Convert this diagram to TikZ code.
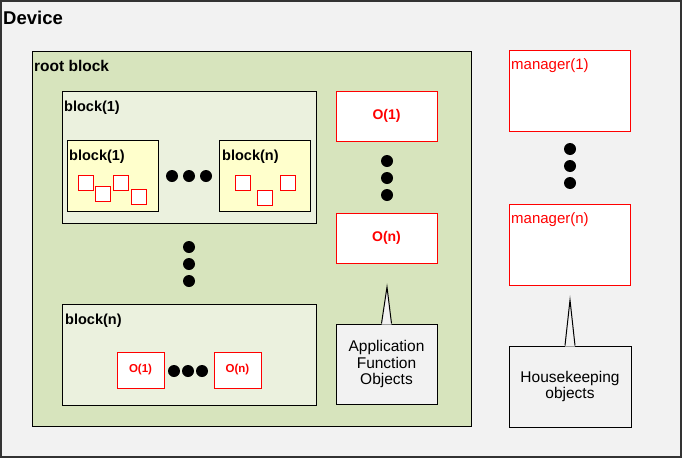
\documentclass[tikz,border=0pt]{standalone}
\usepackage{fontspec}
\setmainfont{Liberation Sans}
\definecolor{devbg}{HTML}{F2F2F2}
\definecolor{rootbg}{HTML}{D7E4BD}
\definecolor{blkbg}{HTML}{EBF1DE}
\definecolor{innbg}{HTML}{FFFFCC}
\definecolor{objred}{HTML}{FF0000}
\newcommand{\fs}[1]{\fontsize{#1}{#1}\selectfont}
\tikzset{
  box/.style={draw=black, line width=1pt, rectangle, inner sep=0pt},
  redbox/.style={draw=objred, fill=white, line width=1pt, rectangle, inner sep=0pt},
  lbl/.style={inner sep=0pt, anchor=base west, font=\bfseries\fs{14.5}},
  dot/.style={circle, fill=black, inner sep=0pt, minimum size=12pt},
  sq/.style={redbox, minimum width=15pt, minimum height=15pt},
  obj/.style={redbox, text=objred, font=\bfseries\fs{14}},
  callout/.style={box, fill=devbg, align=center, font=\fs{15.5}, text=black},
}
\begin{document}
\begin{tikzpicture}[x=1pt, y=-1pt]
\useasboundingbox (0,0) rectangle (682,458);
% device
\node[draw=black!80, line width=1.6pt, fill=devbg, minimum width=680pt, minimum height=456pt, inner sep=0pt] (dev) at (341,229) {};
\node[lbl, font=\bfseries\fs{18.5}] (devl) at (3,24) {Device};
% root block
\node[box, fill=rootbg, minimum width=439pt, minimum height=375pt] (root) at (251.5,238.5) {};
\node[lbl, font=\bfseries\fs{15.5}] (rootl) at (34,71) {root block};
% block(1) outer
\node[box, fill=blkbg, minimum width=254pt, minimum height=132pt] (blk1) at (189,157) {};
\node[lbl] (blk1l) at (64,111) {block(1)};
% inner blocks
\node[box, fill=innbg, minimum width=91pt, minimum height=71pt] (in1) at (112.5,175.5) {};
\node[lbl] (in1l) at (69,160) {block(1)};
\node[box, fill=innbg, minimum width=91pt, minimum height=71pt] (inn) at (264.5,175.5) {};
\node[lbl] (innl) at (222,160) {block(n)};
\node[sq] (s1) at (85.5,182.5) {};
\node[sq] (s2) at (102.5,193.5) {};
\node[sq] (s3) at (120.5,182.5) {};
\node[sq] (s4) at (138.5,196.5) {};
\node[sq] (s5) at (242.5,182.5) {};
\node[sq] (s6) at (264.5,197.5) {};
\node[sq] (s7) at (287.5,182.5) {};
\node[dot] (h1) at (172,176) {};
\node[dot] (h2) at (189,176) {};
\node[dot] (h3) at (206,176) {};
% vertical dots between blocks
\node[dot] (v1) at (189,247) {};
\node[dot] (v2) at (189,264) {};
\node[dot] (v3) at (189,281) {};
% block(n) outer
\node[box, fill=blkbg, minimum width=254pt, minimum height=101pt] (blkn) at (189,354.5) {};
\node[lbl] (blknl) at (65,324) {block(n)};
\node[obj, font=\bfseries\fs{11.5}, minimum width=47pt, minimum height=36pt] (so1) at (140.5,370) {O(1)};
\node[obj, font=\bfseries\fs{11.5}, minimum width=47pt, minimum height=36pt] (son) at (237.5,370) {O(n)};
\node[dot] (b1) at (174,371) {};
\node[dot] (b2) at (188,371) {};
\node[dot] (b3) at (202,371) {};
% objects column
\node[obj, minimum width=101pt, minimum height=50pt] (o1) at (386.5,116) {O(1)};
\node[obj, minimum width=101pt, minimum height=50pt] (on) at (386.5,238) {O(n)};
\node[dot] (c1) at (387,161) {};
\node[dot] (c2) at (387,178) {};
\node[dot] (c3) at (387,195) {};
% application function objects callout
\node[callout, minimum width=101pt, minimum height=80pt] (afo) at (386.5,364) {Application\\[1pt]Function\\[1pt]Objects};
\coordinate (afotip) at (387,287);
\fill[devbg] ([xshift=-5pt,yshift=-1pt]afo.north) -- (afotip) -- ([xshift=5pt,yshift=-1pt]afo.north) -- cycle;
\draw[line width=1pt, line join=miter] ([xshift=-5pt]afo.north) -- (afotip) -- ([xshift=5pt]afo.north);
% managers
\node[redbox, minimum width=121pt, minimum height=81pt] (m1) at (569.5,90.5) {};
\node[inner sep=0pt, anchor=base west, text=objred, font=\fs{15}] (m1l) at (511,69) {manager(1)};
\node[redbox, minimum width=121pt, minimum height=81pt] (mn) at (569.5,244.5) {};
\node[inner sep=0pt, anchor=base west, text=objred, font=\fs{15}] (mnl) at (511,223) {manager(n)};
\node[dot] (d1) at (570,149) {};
\node[dot] (d2) at (570,166) {};
\node[dot] (d3) at (570,183) {};
% housekeeping callout
\node[callout, minimum width=122pt, minimum height=81pt] (hk) at (570,386.5) {Housekeeping\\[1pt]objects};
\coordinate (hktip) at (570,300);
\fill[devbg] ([xshift=-5pt,yshift=-1pt]hk.north) -- (hktip) -- ([xshift=5pt,yshift=-1pt]hk.north) -- cycle;
\draw[line width=1pt, line join=miter] ([xshift=-5pt]hk.north) -- (hktip) -- ([xshift=5pt]hk.north);
\end{tikzpicture}
\end{document}
